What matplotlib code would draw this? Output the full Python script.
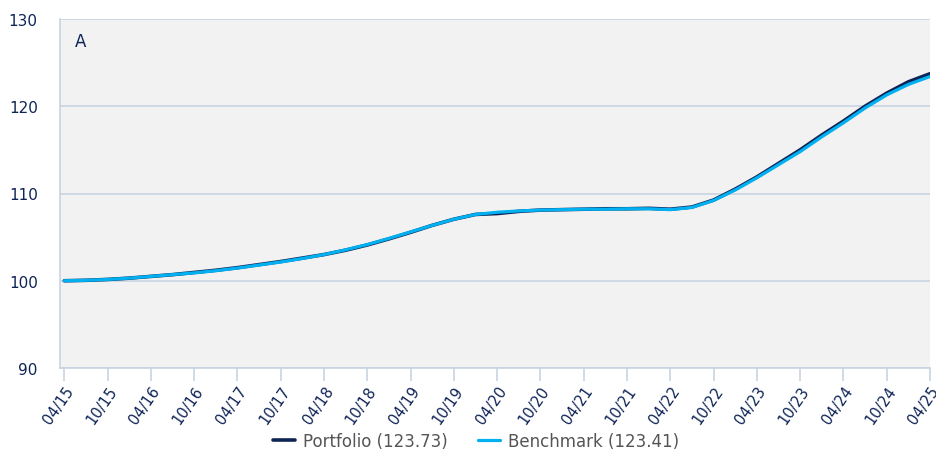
import numpy as np
import matplotlib.pyplot as plt

# quarterly readings, 04/15 .. 04/25
benchmark = [100.0, 100.05, 100.15, 100.3, 100.5, 100.7, 100.9, 101.15, 101.45, 101.8,
             102.15, 102.55, 103.0, 103.55, 104.15, 104.85, 105.6, 106.35, 107.05, 107.6,
             107.85, 108.0, 108.1, 108.15, 108.2, 108.2, 108.25, 108.25, 108.15, 108.4,
             109.2, 110.4, 111.8, 113.3, 114.8, 116.5, 118.1, 119.8, 121.3, 122.5, 123.41]
portfolio = [100.0, 100.05, 100.15, 100.3, 100.5, 100.7, 100.95, 101.2, 101.5, 101.85,
             102.2, 102.6, 103.0, 103.5, 104.1, 104.8, 105.55, 106.35, 107.05, 107.6,
             107.7, 107.95, 108.1, 108.15, 108.2, 108.25, 108.25, 108.3, 108.2, 108.45,
             109.25, 110.5, 111.9, 113.45, 115.0, 116.7, 118.3, 120.0, 121.5, 122.8, 123.73]
tick_labels = ["04/15", "10/15", "04/16", "10/16", "04/17", "10/17", "04/18", "10/18",
               "04/19", "10/19", "04/20", "10/20", "04/21", "10/21", "04/22", "10/22",
               "04/23", "10/23", "04/24", "10/24", "04/25"]

navy = "#0e2456"
light = "#00b0f0"
grid_c = "#c8d4e3"

fig = plt.figure(figsize=(9.36, 4.52), dpi=100)
ax = fig.add_axes([60 / 936, 1 - 369 / 452, 870 / 936, 349 / 452])
ax.set_facecolor("#f2f2f2")

x = np.arange(len(benchmark))
ax.plot(x, portfolio, color=navy, lw=2.6, label="Portfolio (123.73)", solid_capstyle="round")
ax.plot(x, benchmark, color=light, lw=2.3, label="Benchmark (123.41)", solid_capstyle="round")

ax.set_ylim(90, 130)
ax.set_yticks([90, 100, 110, 120, 130])
ax.set_xlim(-0.2, 39.9)
ax.set_xticks(np.arange(0, len(benchmark), 2))
ax.set_xticklabels(tick_labels, rotation=55, ha="right", rotation_mode="anchor")
ax.tick_params(axis="x", colors=grid_c, length=9, width=1.2, labelcolor=navy, labelsize=10.5, pad=2)
ax.tick_params(axis="y", length=0, labelcolor=navy, labelsize=11, pad=16)
ax.grid(axis="y", color=grid_c, lw=1.2)
ax.set_axisbelow(True)
for s in ["top", "right"]:
    ax.spines[s].set_visible(False)
for s in ["left", "bottom"]:
    ax.spines[s].set_color(grid_c)
    ax.spines[s].set_linewidth(1.2)

ax.text(15 / 870, 1 - 13 / 349, "A", transform=ax.transAxes, color=navy, fontsize=12, va="top")

leg = fig.legend(loc="lower center", bbox_to_anchor=(0.509, -0.03), ncol=2, frameon=False,
                 fontsize=12, handlelength=1.3, columnspacing=1.8, handletextpad=0.5)
for t in leg.get_texts():
    t.set_color("#555555")

fig.savefig("out.png", dpi=100)
